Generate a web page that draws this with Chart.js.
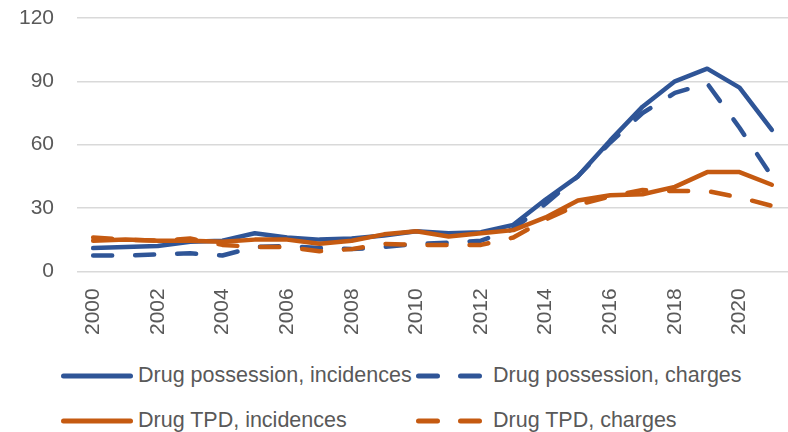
<!DOCTYPE html>
<html>
<head>
<meta charset="utf-8">
<script src="https://cdn.jsdelivr.net/npm/chart.js@4/dist/chart.umd.min.js"></script>
<style>
  html, body { margin: 0; padding: 0; background: #fff; }
  #wrap { position: relative; width: 788px; height: 432px; overflow: hidden; }
  #chartBox { position: absolute; left: 0; top: 0; width: 788px; height: 353px; }
  #legend {
    position: absolute; left: 61px; top: 353px;
    display: grid; grid-template-columns: 355px auto; grid-auto-rows: 45px;
    font-family: "Liberation Sans", Arial, sans-serif; font-size: 21.5px; color: #595959;
  }
  .item { display: flex; align-items: center; white-space: nowrap; }
  .item svg { margin-right: 5px; }
</style>
</head>
<body>
<div id="wrap">
  <div id="chartBox"><canvas id="chart"></canvas></div>
  <div id="legend"></div>
</div>
<script>
const YEARS = ["2000","2001","2002","2003","2004","2005","2006","2007","2008","2009","2010",
  "2011","2012","2013","2014","2015","2016","2017","2018","2019","2020","2021"];

const POSSESSION_INCIDENCES = [11, 11.5, 12, 14, 14.5, 18, 16, 15, 15.5, 17, 19, 18, 18.5, 22, 34, 45, 62, 78, 90, 96, 87, 67];
const POSSESSION_CHARGES = [7.5, 7.5, 8, 8.5, 7.5, 11.5, 12, 11, 10.5, 11.5, 13, 13.5, 14.5, 20, 32, 45, 61, 75, 84.5, 89, 68, 45];
const TPD_INCIDENCES = [14.5, 15, 14.5, 14.5, 14, 15, 15, 13, 14.5, 17.5, 19, 16.5, 18, 19.5, 25.5, 33.5, 36, 36.5, 40, 47, 47, 41];
const TPD_CHARGES = [16, 15, 14.5, 15.5, 12.5, 11.5, 11.5, 9.5, 10.5, 13, 12.5, 12.5, 12.5, 16, 24.5, 31.5, 35.5, 38.5, 38, 38, 35, 31];

const Y_TICKS = [0, 30, 60, 90, 120];

const BLUE = "#2f5597";
const ORANGE = "#c55a11";
const DASH = [19, 23];

const SERIES = [
  { label: "Drug possession, incidences", data: POSSESSION_INCIDENCES, color: BLUE, dashed: false },
  { label: "Drug possession, charges", data: POSSESSION_CHARGES, color: BLUE, dashed: true },
  { label: "Drug TPD, incidences", data: TPD_INCIDENCES, color: ORANGE, dashed: false },
  { label: "Drug TPD, charges", data: TPD_CHARGES, color: ORANGE, dashed: true }
];

Chart.defaults.font.family = "'Liberation Sans', Arial, sans-serif";
Chart.defaults.font.size = 21;
Chart.defaults.color = "#595959";

function buildDatasets() {
  // later series are painted on top, like the original
  return SERIES.map((s, i) => ({
    label: s.label,
    data: s.data,
    borderColor: s.color,
    backgroundColor: s.color,
    borderWidth: 4.5,
    borderDash: s.dashed ? DASH : [],
    borderCapStyle: "round",
    borderJoinStyle: "round",
    pointRadius: 0,
    pointHoverRadius: 0,
    tension: 0,
    fill: false,
    order: SERIES.length - i
  }));
}

function buildLegend() {
  const box = document.getElementById("legend");
  SERIES.forEach(s => {
    const item = document.createElement("div");
    item.className = "item";
    const dash = s.dashed ? ` stroke-dasharray="${DASH.join(" ")}"` : "";
    item.innerHTML =
      `<svg width="72" height="10"><line x1="2.5" y1="5" x2="69.5" y2="5" stroke="${s.color}" stroke-width="5" stroke-linecap="round"${dash}/></svg>` +
      `<span>${s.label}</span>`;
    box.appendChild(item);
  });
}

new Chart(document.getElementById("chart"), {
  type: "line",
  data: { labels: YEARS, datasets: buildDatasets() },
  options: {
    responsive: true,
    maintainAspectRatio: false,
    animation: false,
    layout: { padding: { left: 19, top: 18, right: 0, bottom: 1 } },
    plugins: { legend: { display: false }, tooltip: { enabled: false } },
    scales: {
      x: {
        offset: true,
        grid: { display: false, drawTicks: false },
        border: { display: false },
        afterFit: axis => { axis.paddingLeft = 0; axis.paddingRight = 0; },
        ticks: {
          autoSkip: false,
          minRotation: 90,
          maxRotation: 90,
          padding: 17,
          callback: function (value, index) {
            return index % 2 === 0 ? this.getLabelForValue(value) : "";
          }
        }
      },
      y: {
        min: 0,
        max: 120,
        afterBuildTicks: axis => { axis.ticks = Y_TICKS.map(v => ({ value: v })); },
        afterFit: axis => { axis.width = 58; axis.paddingTop = 0; axis.paddingBottom = 0; },
        grid: { color: "#d9d9d9", lineWidth: 1.5, drawTicks: false },
        border: { display: false },
        ticks: { padding: 23 }
      }
    }
  }
});

buildLegend();
</script>
</body>
</html>
